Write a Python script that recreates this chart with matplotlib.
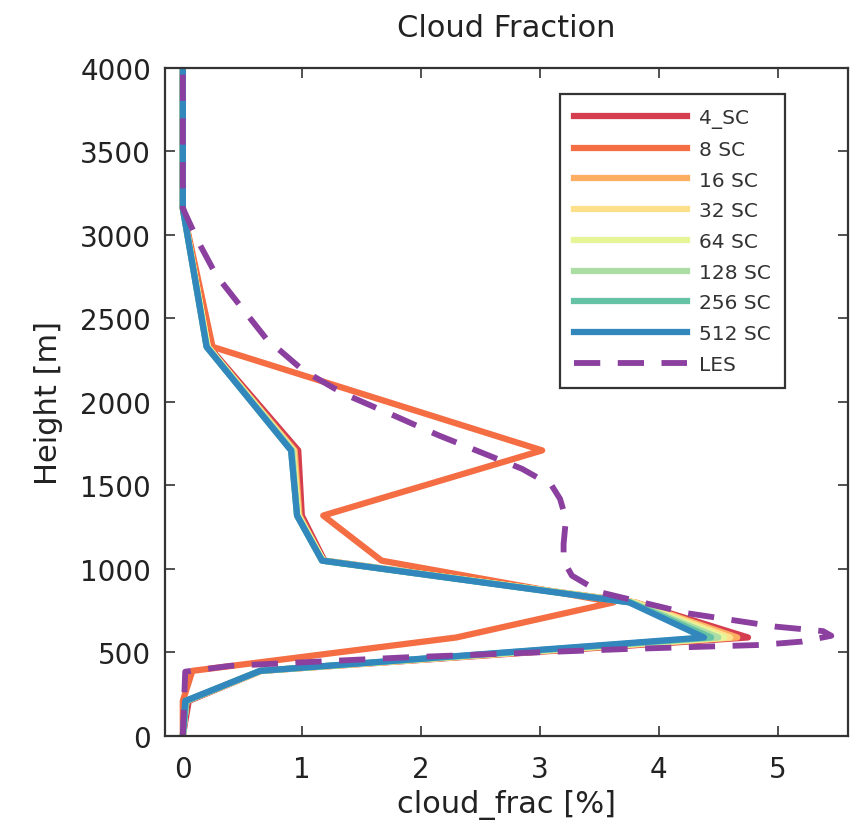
import numpy as np
import matplotlib.pyplot as plt

# model levels [m]
height = [0, 210, 390, 590, 800, 1050, 1320, 1710, 2330, 3160, 4000]

labels = ['4_SC', '8 SC', '16 SC', '32 SC', '64 SC', '128 SC', '256 SC', '512 SC']
colors = ['#d53e4f', '#f46d43', '#fdae61', '#fee08b', '#e6f598', '#abdda4', '#66c2a5', '#3288bd']

sc4   = [0, 0.05, 0.66, 4.75, 3.80, 1.19, 1.00, 0.97, 0.22, 0, 0]
sc8   = [0, 0.00, 0.08, 2.30, 3.62, 1.67, 1.18, 3.02, 0.25, 0, 0]
sc16  = [0, 0.03, 0.66, 4.66, 3.80, 1.18, 0.98, 0.94, 0.21, 0, 0]
sc32  = [0, 0.03, 0.66, 4.60, 3.80, 1.18, 0.97, 0.93, 0.21, 0, 0]
sc64  = [0, 0.03, 0.65, 4.55, 3.78, 1.18, 0.97, 0.92, 0.21, 0, 0]
sc128 = [0, 0.03, 0.65, 4.50, 3.77, 1.17, 0.96, 0.92, 0.20, 0, 0]
sc256 = [0, 0.03, 0.65, 4.44, 3.76, 1.17, 0.96, 0.91, 0.20, 0, 0]
sc512 = [0, 0.02, 0.65, 4.38, 3.75, 1.17, 0.96, 0.91, 0.20, 0, 0]
series = [sc4, sc8, sc16, sc32, sc64, sc128, sc256, sc512]

les_z = [0, 385, 420, 470, 520, 545, 565, 600, 628, 655, 735, 860, 960, 1050,
         1150, 1300, 1420, 1500, 1600, 1700, 1800, 1920, 2050, 2190, 2380,
         2560, 2760, 2960, 3160, 4000]
les_x = [0.0, 0.02, 0.40, 1.85, 3.70, 4.85, 5.20, 5.45, 5.38, 4.98, 4.24,
         3.51, 3.27, 3.20, 3.20, 3.22, 3.17, 3.10, 2.85, 2.50, 2.15, 1.77,
         1.35, 1.01, 0.70, 0.50, 0.28, 0.13, 0.0, 0.0]

fig = plt.figure(figsize=(8.53, 8.37), dpi=100)
ax = fig.add_axes([0.1934, 0.1195, 0.8007, 0.7981])

for x, lab, c in zip(series, labels, colors):
    ax.plot(x, height, color=c, lw=4.5, label=lab)
ax.plot(les_x, les_z, color='#8b3f9f', lw=4.2, dashes=(4.5, 3), label='LES')

ax.set_xlim(-0.15, 5.59)
ax.set_ylim(0, 4000)
ax.set_xticks(range(0, 6))
ax.set_yticks(range(0, 4001, 500))

for s in ax.spines.values():
    s.set_linewidth(1.6)
    s.set_color('#333333')
ax.tick_params(direction='in', length=7, width=1.2, top=True, right=True,
               labelsize=20, colors='#333333', labelcolor='#222222')
ax.tick_params(axis='x', pad=14)
ax.tick_params(axis='y', pad=10)

ax.set_title('Cloud Fraction', fontsize=22, color='#222222', pad=23)
ax.set_xlabel('cloud_frac [%]', fontsize=22, color='#222222', labelpad=4)
ax.set_ylabel('Height [m]', fontsize=22, color='#222222', labelpad=12)

leg = ax.legend(loc='upper right', bbox_to_anchor=(0.922, 0.976), fontsize=14.5,
                handlelength=5.6, handletextpad=0.6, labelspacing=0.58,
                borderpad=0.7, fancybox=False, framealpha=1)
leg.get_frame().set_edgecolor('#333333')
leg.get_frame().set_linewidth(1.6)
for t in leg.get_texts():
    t.set_color('#333333')

fig.savefig('out.png', dpi=100)
